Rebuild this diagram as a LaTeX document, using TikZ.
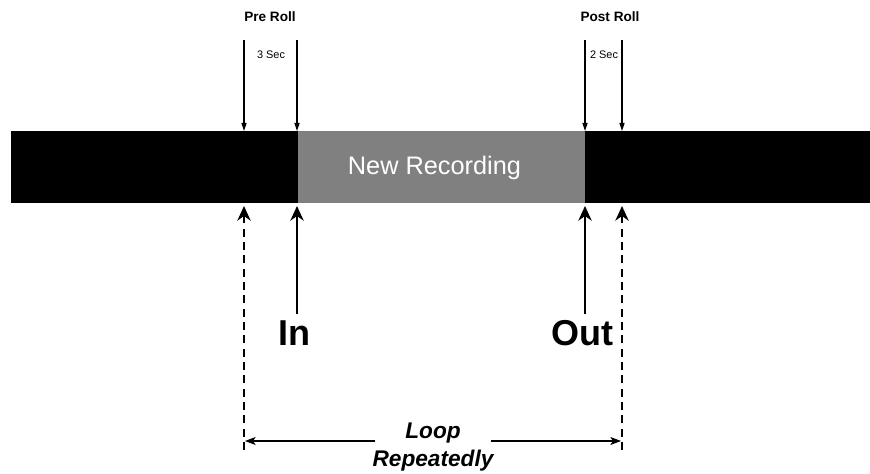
\documentclass[tikz,border=0pt]{standalone}
\usepackage{fontspec}
\setmainfont{Liberation Sans}
\usetikzlibrary{arrows.meta}
\definecolor{recgray}{RGB}{128,128,128}
\begin{document}
\begin{tikzpicture}[x=0.75pt,y=-0.75pt,
  toparrow/.style={-{Triangle[length=6pt,width=3.8pt]}, line width=0.8pt},
  botarrow/.style={-{Stealth[length=11pt,width=10pt,inset=3.5pt]}, line width=1.5pt},
  dasharrow/.style={botarrow, dash pattern=on 6pt off 4pt},
  looparrow/.style={-{Stealth[length=8pt,width=6pt,inset=2pt]}, line width=0.8pt},
  small/.style={inner sep=0pt, font=\fontsize{8.2}{10}\selectfont},
  head/.style={inner sep=0pt, font=\bfseries\fontsize{10.2}{12}\selectfont},
  big/.style={inner sep=0pt, font=\bfseries\fontsize{27}{30}\selectfont},
  loopfont/.style={inner sep=0pt, align=center, font=\bfseries\itshape\fontsize{17}{21.5}\selectfont}]
\useasboundingbox (0,0) rectangle (870,474);
% bar
\fill[black] (11,131) rectangle (870,203);
\fill[recgray] (298,131) rectangle (585,203);
\node[text=white, inner sep=0pt, font=\fontsize{19}{22}\selectfont] (newrec) at (434.5,168) {New Recording};
% coordinates
\coordinate (preTop) at (244,40);
\coordinate (preBar) at (244,131);
\coordinate (inTop) at (297,40);
\coordinate (inBar) at (297,131);
\coordinate (outTop) at (585,40);
\coordinate (outBar) at (585,131);
\coordinate (postTop) at (622,40);
\coordinate (postBar) at (622,131);
\coordinate (preB) at (244,206);
\coordinate (inB) at (297,206);
\coordinate (outB) at (585,206);
\coordinate (postB) at (622,206);
\coordinate (preEnd) at (244,450);
\coordinate (postEnd) at (622,450);
\coordinate (loopL) at (245,441);
\coordinate (loopR) at (621,441);
% top labels
\node[head] (prelbl) at (270,17) {Pre Roll};
\node[head] (postlbl) at (610,17) {Post Roll};
\node[small] (three) at (271,55) {3 Sec};
\node[small] (two) at (604,55) {2 Sec};
% top arrows
\draw[toparrow] (preTop) -- (preBar);
\draw[toparrow] (inTop) -- (inBar);
\draw[toparrow] (outTop) -- (outBar);
\draw[toparrow] (postTop) -- (postBar);
% bottom labels
\node[big] (in) at (294,333) {In};
\node[big] (out) at (582,333) {Out};
\draw[botarrow] (in.north -| inB) ++(0,-6) -- (inB);
\draw[botarrow] (out.north -| outB) ++(0,-6) -- (outB);
\draw[dasharrow] (preEnd) -- (preB);
\draw[dasharrow] (postEnd) -- (postB);
% loop
\node[loopfont] (loop) at (433,447) {Loop\\Repeatedly};
\draw[looparrow] (loop.west |- loopL) ++(3,0) -- (loopL);
\draw[looparrow] (loop.east |- loopR) ++(-3,0) -- (loopR);
\end{tikzpicture}
\end{document}
